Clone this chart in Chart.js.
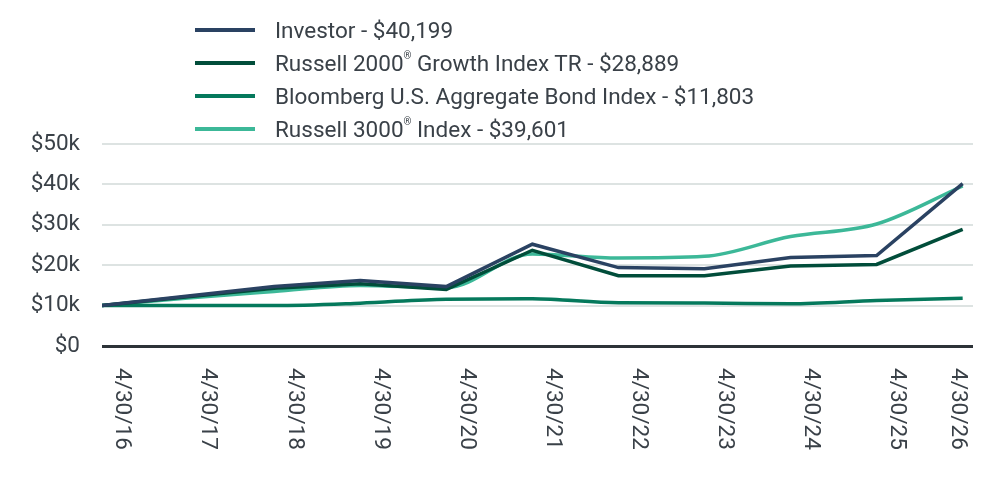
<!DOCTYPE html>
<html>
<head>
<meta charset="utf-8">
<script src="https://cdn.jsdelivr.net/npm/chart.js@4.4.1/dist/chart.umd.min.js"></script>
<style>
  html, body { margin: 0; padding: 0; background: #fff; }
  #wrap { position: relative; width: 984px; height: 480px; }
  #legend {
    position: absolute; left: 195px; top: 13px;
    font-family: Roboto, sans-serif; font-size: 22.5px; color: #3a4148;
  }
  #legend .row { display: flex; align-items: center; height: 33px; }
  #legend .sw { width: 60px; height: 4px; margin-right: 20px; }
  #legend sup { font-size: 10px; position: relative; top: -3px; }
</style>
</head>
<body>
<div id="wrap">
  <canvas id="growth-chart" width="984" height="480"></canvas>
  <div id="legend"></div>
</div>
<script>
const dates = ['4/30/16', '4/30/17', '4/30/18', '4/30/19', '4/30/20', '4/30/21',
               '4/30/22', '4/30/23', '4/30/24', '4/30/25', '4/30/26'];

const investor   = [10000, 12400, 14700, 16200, 14700, 25200, 19400, 19100, 21900, 22400, 40199];
const r2000g     = [10000, 12200, 14300, 15400, 14000, 23700, 17400, 17400, 19800, 20200, 28889];
const bloomberg  = [10000, 10050, 10000, 10600, 11600, 11700, 10700, 10650, 10450, 11250, 11803];
const r3000      = [10000, 11900, 13500, 15000, 14400, 22800, 21800, 22200, 27100, 30200, 39601];

const yTicks = [0, 10000, 20000, 30000, 40000, 50000];

const seriesNames = [
    'Investor - $40,199',
    'Russell 2000<sup>®</sup> Growth Index TR - $28,889',
    'Bloomberg U.S. Aggregate Bond Index - $11,803',
    'Russell 3000<sup>®</sup> Index - $39,601',
];

const colors = ['#2a4262', '#014d3a', '#05795c', '#3cb898'];
const FONT = "Roboto, sans-serif";
const FONT_SIZE = 22.5;

const toPoints = (arr) => arr.map((v, i) => ({ x: i, y: v }));

// rotated date labels, reading top to bottom
const dateLabels = {
    id: 'dateLabels',
    afterDraw(chart) {
        const ctx = chart.ctx;
        const xs = chart.scales.x;
        const area = chart.chartArea;
        ctx.save();
        ctx.font = FONT_SIZE + 'px ' + FONT;
        ctx.fillStyle = '#3a4148';
        ctx.textAlign = 'left';
        ctx.textBaseline = 'middle';
        dates.forEach((d, i) => {
            const x = Math.min(xs.getPixelForValue(i) + 20, area.right - 15);
            ctx.save();
            ctx.translate(x, area.bottom + 22);
            ctx.rotate(Math.PI / 2);
            ctx.fillText(d, 0, 0);
            ctx.restore();
        });
        ctx.restore();
    },
};

const makeSet = (i, data, smooth) => ({
    label: seriesNames[i],
    data: toPoints(data),
    borderColor: colors[i],
    backgroundColor: colors[i],
    borderWidth: 3.5,
    pointRadius: 0,
    cubicInterpolationMode: smooth ? 'monotone' : 'default',
    tension: 0,
});

const chart = new Chart(document.getElementById('growth-chart'), {
    type: 'line',
    data: {
        datasets: [
            makeSet(0, investor, false),
            makeSet(1, r2000g, false),
            makeSet(2, bloomberg, true),
            makeSet(3, r3000, true),
        ],
    },
    options: {
        responsive: false,
        animation: false,
        layout: { padding: { top: 144, right: 11, left: 0, bottom: 0 } },
        plugins: {
            legend: { display: false },
            tooltip: { enabled: false },
        },
        scales: {
            x: {
                type: 'linear',
                min: 0,
                max: 10.12,
                grid: { display: false },
                border: { display: false },
                ticks: { display: false },
                afterFit: (s) => { s.height = 134; },
            },
            y: {
                min: 0,
                max: 50000,
                afterBuildTicks: (s) => { s.ticks = yTicks.map(v => ({ value: v })); },
                afterFit: (s) => { s.width = 102; },
                border: { display: false },
                grid: {
                    drawTicks: false,
                    color: (c) => c.tick.value === 0 ? '#2d3338' : '#dde3e2',
                    lineWidth: (c) => c.tick.value === 0 ? 3 : 2,
                },
                ticks: {
                    padding: 22,
                    color: '#3a4148',
                    font: { family: FONT, size: FONT_SIZE },
                    callback: (v) => v === 0 ? '$0' : '$' + (v / 1000) + 'k',
                },
            },
        },
    },
    plugins: [dateLabels],
});

// html legend, one series per row
const legendEl = document.getElementById('legend');
chart.data.datasets.forEach((ds) => {
    const row = document.createElement('div');
    row.className = 'row';
    row.innerHTML = '<span class="sw" style="background:' + ds.borderColor + '"></span><span>' + ds.label + '</span>';
    legendEl.appendChild(row);
});
</script>
</body>
</html>
